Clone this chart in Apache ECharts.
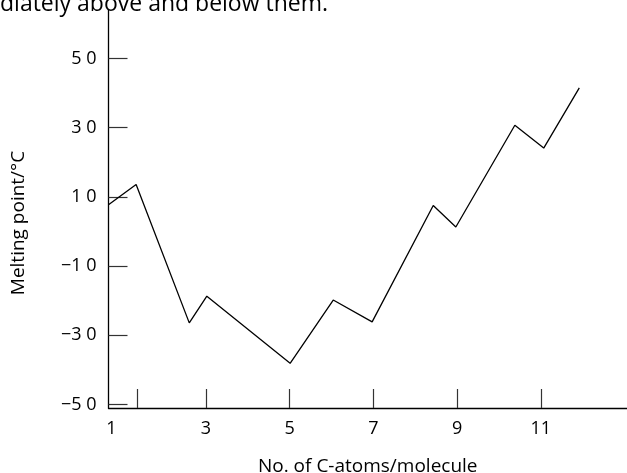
<!DOCTYPE html>
<html>
<head>
<meta charset="utf-8">
<script src="https://cdn.jsdelivr.net/npm/echarts@6/dist/echarts.min.js"></script>
<style>html,body{margin:0;padding:0;background:#fff;}#c{width:627px;height:473px;}</style>
</head>
<body>
<div id="c"></div>
<script>
// Data (x = number of C-atoms as drawn, y = melting point / °C)
const carbonAtoms = [0.67, 1.33, 2.60, 3.02, 5.01, 6.04, 6.97, 8.43, 8.97, 10.38, 11.07, 11.92];
const meltingPoints = [7.7, 13.6, -26.4, -18.7, -38.1, -19.8, -26.1, 7.5, 1.3, 30.7, 24.1, 41.5];
const xTickValues = [1.35, 3, 5, 7, 9, 11];
const xLabelValues = [1, 3, 5, 7, 9, 11];
const xTickLabels = ['1', '3', '5', '7', '9', '11'];
const yTickValues = [50, 30, 10, -10, -30, -50];
const yTickLabels = ['5 0', '3 0', '1 0', '\u22121 0', '\u22123 0', '\u22125 0'];
const topText = 'diately above and below them.';
const xTitle = 'No. of C-atoms/molecule';
const yTitle = 'Melting point/\u00b0C';

const FONT = 'Open Sans';
const chart = echarts.init(document.getElementById('c'), null, {renderer: 'canvas'});
chart.setOption({
  animation: false,
  backgroundColor: '#fff',
  graphic: [{
    type: 'text', left: 0, top: -7,
    style: {text: topText, font: '23px "' + FONT + '"', fill: '#000'}
  }],
  grid: {left: 108.5, right: 0, top: 10, bottom: 65, containLabel: false, outerBoundsMode: 'none'},
  xAxis: {
    type: 'value', min: 0.67, max: 13.06,
    name: xTitle, nameLocation: 'middle', nameGap: 49,
    nameTextStyle: {fontFamily: FONT, fontSize: 19, color: '#000'},
    axisLine: {show: true, onZero: false, lineStyle: {color: '#000', width: 1.3}},
    axisTick: {show: true, inside: true, length: 19, customValues: xTickValues, lineStyle: {color: '#333', width: 1.2}},
    axisLabel: {
      customValues: xLabelValues, margin: 12, color: '#000', fontFamily: FONT, fontSize: 18,
      formatter: function (v) {
        const i = xLabelValues.indexOf(v);
        const t = i >= 0 ? xTickLabels[i] : '';
        return i === 0 ? '{first|' + t + '}' : t;
      },
      rich: {first: {fontFamily: FONT, fontSize: 18, color: '#000', padding: [0, 22, 0, 0]}}
    },
    splitLine: {show: false}
  },
  yAxis: {
    type: 'value', min: -51, max: 64,
    name: yTitle, nameLocation: 'middle', nameGap: 80, nameRotate: 90,
    nameTextStyle: {fontFamily: FONT, fontSize: 19, color: '#000', padding: [0, 28, 0, 0]},
    axisLine: {show: true, lineStyle: {color: '#000', width: 1.3}},
    axisTick: {show: true, inside: true, length: 19, customValues: yTickValues, lineStyle: {color: '#333', width: 1.2}},
    axisLabel: {
      customValues: yTickValues, margin: 12, color: '#000', fontFamily: FONT, fontSize: 18,
      formatter: function (v) {
        const i = yTickValues.indexOf(v);
        return i >= 0 ? yTickLabels[i] : '';
      }
    },
    splitLine: {show: false}
  },
  series: [{
    type: 'line',
    data: carbonAtoms.map((x, i) => [x, meltingPoints[i]]),
    symbol: 'none',
    lineStyle: {color: '#000', width: 1.3},
    clip: false
  }]
});
</script>
</body>
</html>
